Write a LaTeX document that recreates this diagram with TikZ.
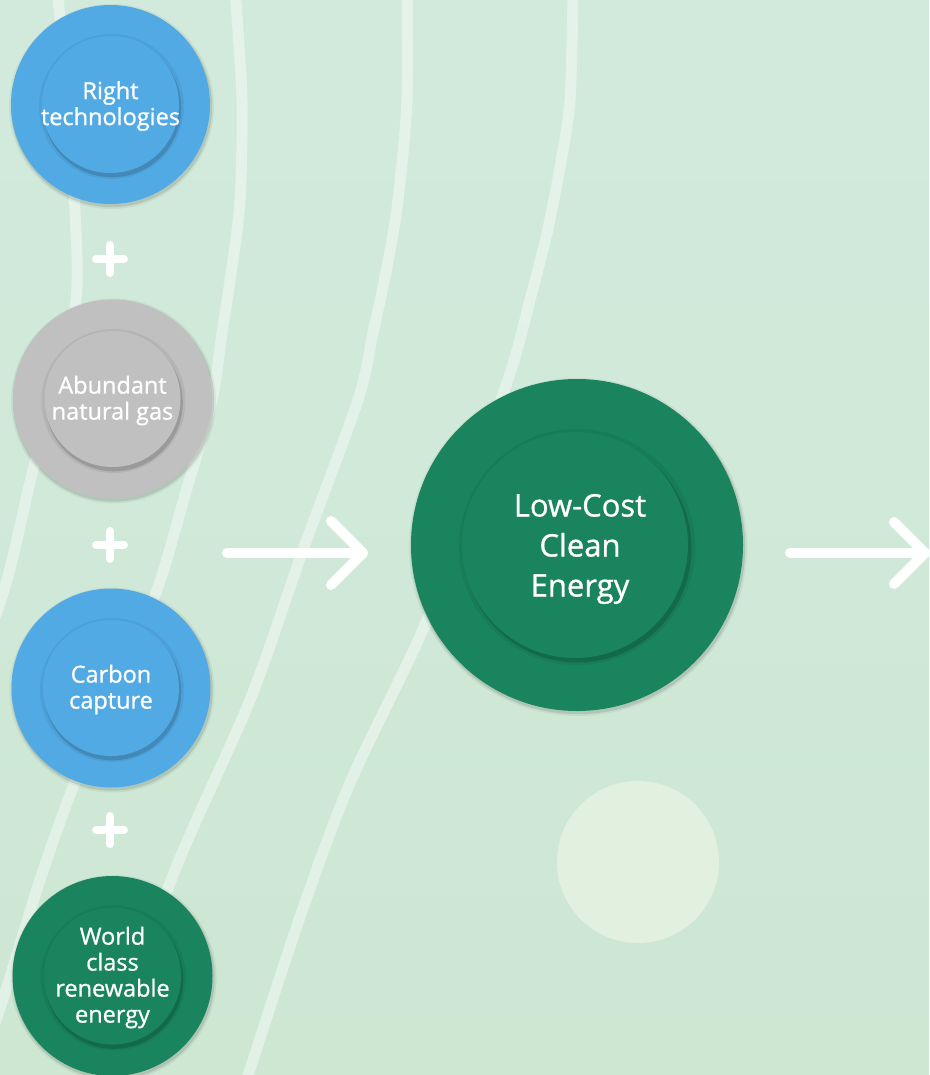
\documentclass[tikz,border=0pt]{standalone}
\usepackage{fontspec}
\setmainfont{Open Sans}
\newfontfamily\lblfont{Open Sans}[FakeBold=0.9]
\definecolor{bgtop}{RGB}{210,234,220}
\definecolor{bgbot}{RGB}{205,231,211}
\definecolor{cblue}{RGB}{82,170,229}
\definecolor{cgray}{RGB}{192,192,192}
\definecolor{cgreen}{RGB}{25,132,94}
\definecolor{cpale}{RGB}{226,240,224}
\newcommand{\bubble}[7]{% name, x, y, Rout, Rin, colour, text
  \fill[black,opacity=0.05] (#2+1,#3+2) circle[radius=#4pt+3pt];
  \fill[black,opacity=0.10] (#2+1,#3+2) circle[radius=#4pt+1.2pt];
  \node[disc, fill=#6, minimum size={2*#4pt}] (#1) at (#2,#3) {};
  \fill[black,opacity=0.06] (#2+1,#3+2) circle[radius=#5pt+4pt];
  \fill[black,opacity=0.14] (#2+1.5,#3+3.5) circle[radius=#5pt+0.8pt];
  \node[disc, fill=#6, minimum size={2*#5pt}] (#1in) at (#2,#3) {};
  \node[txt] (#1txt) at (#2,#3+1.5) {#7};
}
\begin{document}
\begin{tikzpicture}[x=1pt,y=-1pt,
  bgline/.style={line width=11pt, white, opacity=0.42},
  disc/.style={circle, inner sep=0pt, draw=none},
  txt/.style={text=white, align=center, inner sep=0pt, font=\lblfont\fontsize{23.5}{26}\selectfont},
  bigtxt/.style={text=white, align=center, inner sep=0pt, font=\lblfont\fontsize{31}{40}\selectfont},
  whiteline/.style={white, line width=10pt, line cap=round, line join=round},
  plusline/.style={white, line width=8pt, line cap=round},
  anchorpt/.style={inner sep=0pt, minimum size=0pt}]
\useasboundingbox (0,0) rectangle (929,1075);
\clip (0,0) rectangle (929,1075);
% background
\fill[top color=bgtop, bottom color=bgbot] (0,0) rectangle (929,1075);
% background curves
\draw[bgline] plot[smooth] coordinates {(57,-10) (68,100) (75,210) (76,300) (55,390) (33,470) (7,580) (-20,660)};
\draw[bgline] plot[smooth] coordinates {(235,-10) (242,100) (240,200) (232,267) (222,333) (212,400) (185,495) (157,590) (115,690) (73,787) (40,880) (10,977) (-25,1085)};
\draw[bgline] plot[smooth] coordinates {(407,-10) (407,100) (398,200) (387,267) (373,333) (358,400) (303,550) (250,700) (170,883) (105,1085)};
\draw[bgline] plot[smooth] coordinates {(573,-10) (570,100) (560,167) (547,233) (530,300) (512,367) (470,490) (427,620) (350,783) (300,917) (245,1085)};
% pale circle
\node[disc, fill=cpale, minimum size=162pt] (pale) at (638,862) {};
% input bubbles
\bubble{tech}{110.5}{104.5}{99.5}{68.5}{cblue}{Right\\technologies}
\bubble{gas}{112.5}{399}{99.5}{68}{cgray}{Abundant\\natural gas}
\bubble{ccs}{111}{688}{99.5}{68}{cblue}{Carbon\\capture}
\bubble{renew}{112.5}{976}{100}{68.5}{cgreen}{World\\class\\renewable\\energy}
% central bubble
\fill[black,opacity=0.05] (578,547) circle[radius=169pt];
\fill[black,opacity=0.10] (578,547) circle[radius=167.2pt];
\node[disc, fill=cgreen, minimum size=332pt] (big) at (577,545) {};
\fill[black,opacity=0.06] (577,547) circle[radius=118pt];
\fill[black,opacity=0.14] (577.5,548.5) circle[radius=114pt];
\node[disc, fill=cgreen, minimum size=226pt] (bigin) at (575,545) {};
\node[bigtxt] (bigtxt) at (580,549) {Low-Cost\\Clean\\Energy};
% plus signs
\node[anchorpt] (p1) at (110,259) {};
\node[anchorpt] (p2) at (110,545) {};
\node[anchorpt] (p3) at (110,830) {};
\foreach \p in {p1,p2,p3}{
  \draw[plusline] (\p) ++(-14,0) -- ++(28,0);
  \draw[plusline] (\p) ++(0,-14) -- ++(0,28);
}
% arrows
\coordinate (a1s) at (227,553);
\coordinate (a1e) at (363,553);
\draw[whiteline] (a1s) -- (a1e);
\draw[whiteline] (a1e) ++(-32,-32) -- (a1e) -- ++(-32,32);
\coordinate (a2s) at (790,553);
\coordinate (a2e) at (925,553);
\draw[whiteline] (a2s) -- (a2e);
\draw[whiteline] (a2e) ++(-31,-31) -- (a2e) -- ++(-31,31);
\end{tikzpicture}
\end{document}
